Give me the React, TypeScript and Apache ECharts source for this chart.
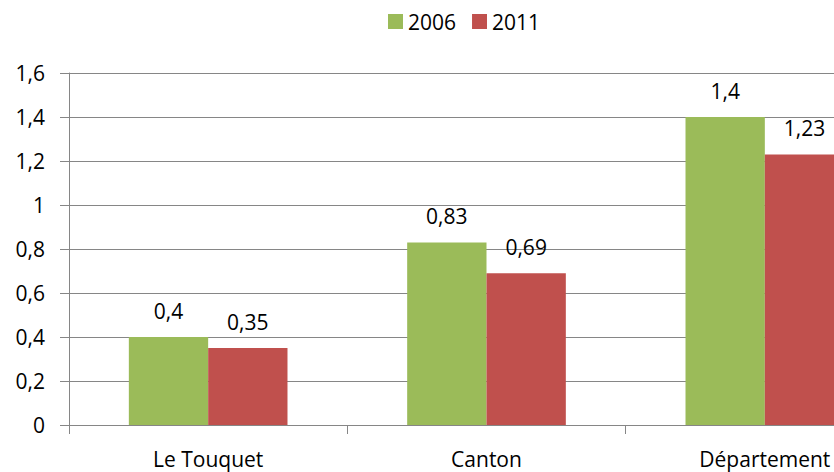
import React, { useEffect, useRef } from "react";
import * as echarts from "echarts";

const categories = ["Le Touquet", "Canton", "Département"];
const series2006 = [0.4, 0.83, 1.4];
const series2011 = [0.35, 0.69, 1.23];
const seriesNames = ["2006", "2011"];

const FONT = "'Open Sans', 'Noto Sans', sans-serif";
const fmt = (v: number) => String(v).replace(".", ",");

export default function App() {
  const ref = useRef<HTMLDivElement>(null);
  useEffect(() => {
    if (!ref.current) return;
    const chart = echarts.init(ref.current, undefined, { renderer: "svg" });
    const labelCfg = {
      show: true,
      position: "top" as const,
      distance: 16,
      color: "#000",
      fontSize: 21,
      fontFamily: FONT,
      formatter: (p: any) => fmt(p.value),
    };
    chart.setOption({
      animation: false,
      backgroundColor: "#fff",
      textStyle: { fontFamily: FONT },
      legend: {
        top: 6,
        left: 383,
        itemWidth: 15,
        itemHeight: 15,
        itemGap: 16,
        icon: "rect",
        textStyle: { fontSize: 21, color: "#000", fontFamily: FONT, padding: [0, 0, 0, 0] },
        data: seriesNames,
      },
      grid: {
        left: 69,
        top: 73,
        width: 835,
        bottom: 47,
        containLabel: false,
        outerBoundsMode: "none",
      },
      xAxis: {
        type: "category",
        data: categories,
        boundaryGap: true,
        axisLine: { show: true, lineStyle: { color: "#868686", width: 1 } },
        axisTick: { show: true, length: 9, lineStyle: { color: "#868686" } },
        axisLabel: { color: "#000", fontSize: 21, fontFamily: FONT, margin: 23 },
        splitLine: { show: false },
      },
      yAxis: {
        type: "value",
        min: 0,
        max: 1.6,
        interval: 0.2,
        axisLine: { show: true, lineStyle: { color: "#868686", width: 1 } },
        axisTick: { show: true, length: 9, lineStyle: { color: "#868686" } },
        axisLabel: {
          color: "#000",
          fontSize: 21,
          fontFamily: FONT,
          margin: 24,
          formatter: (v: number) => fmt(Math.round(v * 10) / 10),
        },
        splitLine: { show: true, lineStyle: { color: "#868686", width: 1 } },
      },
      series: [
        {
          name: seriesNames[0],
          type: "bar",
          data: series2006,
          itemStyle: { color: "#9BBB59" },
          barGap: "0%",
          barCategoryGap: "43%",
          label: labelCfg,
        },
        {
          name: seriesNames[1],
          type: "bar",
          data: series2011,
          itemStyle: { color: "#C0504D" },
          barGap: "0%",
          barCategoryGap: "43%",
          label: labelCfg,
        },
      ],
    });
    return () => chart.dispose();
  }, []);
  return <div ref={ref} style={{ width: 834, height: 472, position: "absolute", left: 0, top: 0 }} />;
}
